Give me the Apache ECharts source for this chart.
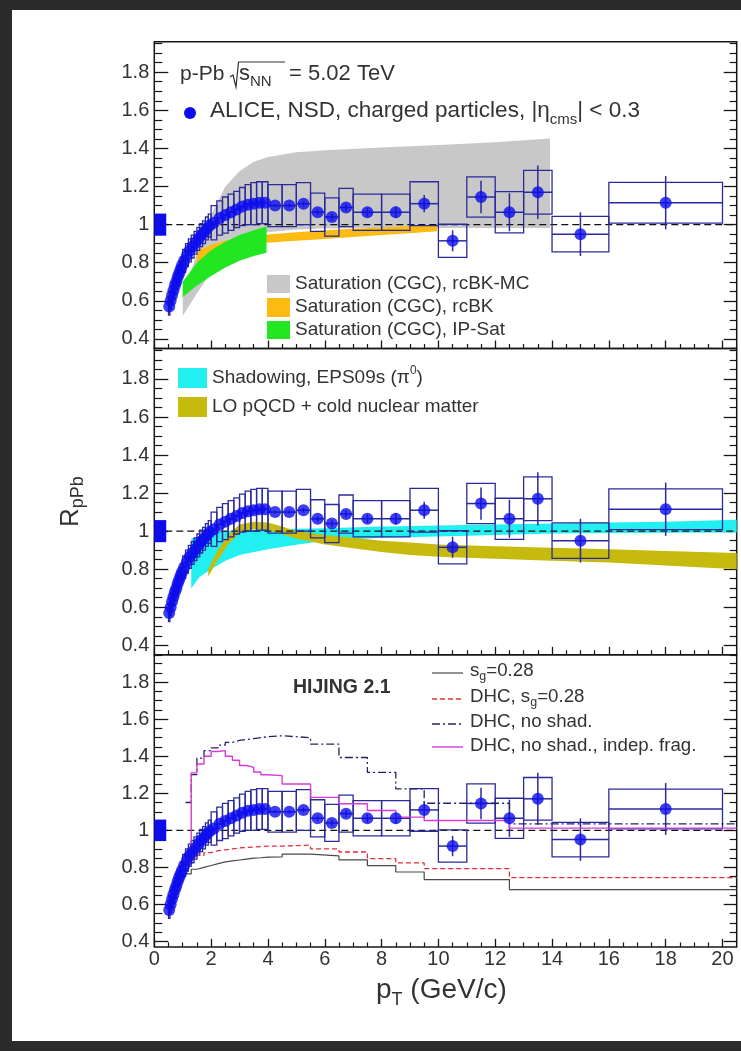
<!DOCTYPE html>
<html>
<head>
<meta charset="utf-8">
<script src="https://cdn.jsdelivr.net/npm/echarts@6/dist/echarts.min.js"></script>
<style>
  html, body { margin: 0; padding: 0; background: #2b2b2b; }
  #chart { width: 741px; height: 1051px; }
</style>
</head>
<body>
<div id="chart"></div>
<script>
// ALICE, NSD charged particles, |eta_cms| < 0.3 : nuclear modification factor R_pPb
const binLow  = [0.5,0.55,0.6,0.65,0.7,0.75,0.8,0.85,0.9,0.95, 1.0,1.1,1.2,1.3,1.4,1.5,1.6,1.7,1.8,1.9,
                 2.0,2.2,2.4,2.6,2.8,3.0,3.2,3.4,3.6,3.8, 4.0,4.5,5.0,5.5,6.0,6.5,7,8,9,10,11,12,13,14,16];
const binHigh = [0.55,0.6,0.65,0.7,0.75,0.8,0.85,0.9,0.95,1.0, 1.1,1.2,1.3,1.4,1.5,1.6,1.7,1.8,1.9,2.0,
                 2.2,2.4,2.6,2.8,3.0,3.2,3.4,3.6,3.8,4.0, 4.5,5.0,5.5,6.0,6.5,7,8,9,10,11,12,13,14,16,20];
const ptCenter = [0.525,0.575,0.625,0.675,0.725,0.775,0.825,0.875,0.925,0.975,
                  1.05,1.15,1.25,1.35,1.45,1.55,1.65,1.75,1.85,1.95,
                  2.1,2.3,2.5,2.7,2.9,3.1,3.3,3.5,3.7,3.9,
                  4.25,4.75,5.25,5.75,6.25,6.75,7.5,8.5,9.5,10.5,11.5,12.5,13.5,15,18];
const rpPb = [0.57,0.60,0.63,0.655,0.68,0.70,0.725,0.745,0.765,0.785,
              0.81,0.84,0.865,0.885,0.905,0.925,0.945,0.96,0.98,0.995,
              1.01,1.035,1.05,1.065,1.08,1.095,1.105,1.11,1.115,1.115,
              1.10,1.10,1.11,1.065,1.04,1.09,1.065,1.065,1.11,0.915,1.145,1.065,1.17,0.95,1.115];
const statErr = [0.004,0.004,0.004,0.004,0.004,0.004,0.004,0.004,0.004,0.004,
                 0.004,0.004,0.004,0.004,0.004,0.004,0.004,0.004,0.004,0.004,
                 0.005,0.005,0.005,0.005,0.005,0.005,0.005,0.005,0.005,0.005,
                 0.008,0.01,0.012,0.014,0.016,0.018,0.022,0.03,0.045,0.055,0.085,0.1,0.14,0.115,0.14];
const sysErr = [0.045,0.045,0.045,0.045,0.045,0.045,0.045,0.045,0.045,0.045,
                0.06,0.06,0.06,0.06,0.06,0.06,0.06,0.06,0.06,0.06,
                0.09,0.09,0.095,0.095,0.095,0.1,0.105,0.11,0.11,0.11,
                0.11,0.11,0.11,0.1,0.1,0.1,0.095,0.095,0.115,0.087,0.106,0.108,0.115,0.093,0.107];
// normalisation uncertainty drawn at unity
const normBin = [0, 0.42];
const normUnc = 0.058;

// Saturation (CGC), rcBK-MC
const rcbkMcX  = [1.0, 1.5, 2.0, 2.5, 3.0, 3.5, 4.0, 5.0, 6.0, 8.0, 10.0, 12.0, 13.93];
const rcbkMcLo = [0.52, 0.64, 0.75, 0.83, 0.89, 0.93, 0.96, 0.975, 0.98, 0.982, 0.982, 0.982, 0.982];
const rcbkMcHi = [0.62, 0.85, 1.05, 1.20, 1.28, 1.33, 1.355, 1.38, 1.39, 1.405, 1.418, 1.432, 1.452];
// Saturation (CGC), rcBK
const rcbkX  = [1.5, 2.0, 2.5, 3.0, 4.0, 5.0, 6.0, 7.0, 8.0, 9.0, 9.95];
const rcbkLo = [0.80, 0.845, 0.87, 0.885, 0.905, 0.915, 0.925, 0.935, 0.945, 0.955, 0.965];
const rcbkHi = [0.86, 0.895, 0.915, 0.93, 0.948, 0.96, 0.97, 0.978, 0.985, 0.993, 1.0];
// Saturation (CGC), IP-Sat
const ipSatX  = [1.0, 1.5, 2.0, 2.5, 3.0, 3.5, 3.95];
const ipSatLo = [0.62, 0.68, 0.73, 0.775, 0.81, 0.835, 0.853];
const ipSatHi = [0.70, 0.80, 0.865, 0.91, 0.945, 0.97, 0.99];
// Shadowing, EPS09s (pi0)
const eps09X  = [1.3, 1.6, 2.0, 2.5, 3.0, 4.0, 5.0, 6.0, 8.0, 10.0, 12.0, 14.0, 16.0, 18.0, 20.5];
const eps09Lo = [0.70, 0.76, 0.80, 0.845, 0.875, 0.905, 0.928, 0.95, 0.965, 0.972, 0.98, 0.988, 0.99, 0.992, 0.993];
const eps09Hi = [0.96, 0.975, 0.99, 1.0, 1.005, 1.01, 1.012, 1.015, 1.025, 1.03, 1.035, 1.04, 1.045, 1.05, 1.06];
// LO pQCD + cold nuclear matter
const pqcdX  = [1.9, 2.2, 2.6, 3.0, 3.5, 4.0, 4.5, 5.0, 5.5, 6.0, 7.0, 8.0, 9.0, 10.0, 12.0, 14.0, 16.0, 18.0, 20.5];
const pqcdLo = [0.76, 0.84, 0.93, 0.99, 1.01, 1.005, 0.985, 0.96, 0.945, 0.93, 0.91, 0.89, 0.875, 0.865, 0.855, 0.845, 0.835, 0.82, 0.80];
const pqcdHi = [0.80, 0.89, 0.98, 1.035, 1.05, 1.045, 1.025, 1.0, 0.99, 0.98, 0.965, 0.95, 0.94, 0.93, 0.92, 0.913, 0.905, 0.895, 0.885];

// HIJING 2.1 histograms (bin edges and contents)
const hijEdges = [1.1,1.3,1.5,1.75,2.0,2.25,2.5,2.75,3.0,3.25,3.5,3.75,4.0,4.5,5.5,6.5,7.5,8.5,9.5,12.5,20.5];
const hijSg        = [0.765,0.79,0.80,0.81,0.82,0.83,0.835,0.84,0.845,0.85,0.852,0.855,0.857,0.872,0.862,0.84,0.81,0.775,0.734,0.68];
const hijDhcSg     = [0.83,0.85,0.865,0.88,0.89,0.895,0.90,0.905,0.908,0.91,0.912,0.915,0.915,0.92,0.90,0.883,0.847,0.824,0.793,0.745];
const hijDhcNoShad = [1.15,1.30,1.39,1.43,1.445,1.46,1.475,1.485,1.49,1.495,1.50,1.505,1.51,1.50,1.465,1.393,1.313,1.224,1.146,1.035];
const hijIndepFrag = [0.875,1.31,1.358,1.40,1.425,1.43,1.40,1.378,1.35,1.34,1.315,1.30,1.295,1.25,1.178,1.143,1.107,1.071,1.053,1.012];

// axis ticks
const xMajor = [0, 2, 4, 6, 8, 10, 12, 14, 16, 18, 20];
const yMajor = [0.4, 0.6, 0.8, 1, 1.2, 1.4, 1.6, 1.8];

const FONT = "'Liberation Sans', Arial, Helvetica, sans-serif";
const TEXT = '#333';
const AXIS = '#161616';
const BLUE = '#0c0cee';
const BOX = '#2a2a9c';

const xMinor = [];
for (let v = 0.5; v < 20.5; v += 0.5) if (Math.abs(v / 2 - Math.round(v / 2)) > 1e-6) xMinor.push(+v.toFixed(2));
const yMinor = [];
for (let k = 7; k <= 39; k++) { const v = +(k * 0.05).toFixed(2); if (Math.abs(v * 5 - Math.round(v * 5)) > 1e-6) yMinor.push(v); }

// frame geometry of the three stacked pads
const pads = [
  { top: 41.7,  height: 306.8, min: 0.35,  max: 1.96 },
  { top: 348.5, height: 306.3, min: 0.35,  max: 1.96 },
  { top: 654.8, height: 292.1, min: 0.371, max: 1.947 }
];
const FRAME_L = 154.3, FRAME_W = 582.4, X_MAX = 20.5;

const grids = pads.map(p => ({
  left: FRAME_L, top: p.top, width: FRAME_W, height: p.height,
  show: true, borderColor: AXIS, borderWidth: 1.5, backgroundColor: 'transparent'
}));

const xAxes = [], yAxes = [];
pads.forEach((p, g) => {
  xAxes.push({
    gridIndex: g, type: 'value', min: 0, max: X_MAX, position: 'bottom',
    axisLine: { show: false }, splitLine: { show: false },
    axisTick: { inside: true, length: 8, customValues: xMajor, lineStyle: { color: AXIS, width: 1.3 } },
    axisLabel: { show: g === 2, customValues: xMajor, fontSize: 20, fontFamily: FONT, color: TEXT, margin: 3 }
  });
  xAxes.push({
    gridIndex: g, type: 'value', min: 0, max: X_MAX, position: 'bottom',
    axisLine: { show: false }, splitLine: { show: false },
    axisTick: { inside: true, length: 4.5, customValues: xMinor, lineStyle: { color: AXIS, width: 1.2 } },
    axisLabel: { show: false }
  });
  const yBase = { gridIndex: g, type: 'value', min: p.min, max: p.max, axisLine: { show: false }, splitLine: { show: false } };
  yAxes.push(Object.assign({}, yBase, {
    position: 'left',
    axisTick: { inside: true, length: 14, customValues: yMajor, lineStyle: { color: AXIS, width: 1.3 } },
    axisLabel: { customValues: yMajor, fontSize: 20, fontFamily: FONT, color: TEXT, margin: 5,
                 formatter: v => String(Math.round(v * 10) / 10) }
  }));
  yAxes.push(Object.assign({}, yBase, {
    position: 'left',
    axisTick: { inside: true, length: 8, customValues: yMinor, lineStyle: { color: AXIS, width: 1.2 } },
    axisLabel: { show: false }
  }));
  yAxes.push(Object.assign({}, yBase, {
    position: 'right',
    axisTick: { inside: true, length: 13, customValues: yMajor, lineStyle: { color: AXIS, width: 1.3 } },
    axisLabel: { show: false }
  }));
  yAxes.push(Object.assign({}, yBase, {
    position: 'right',
    axisTick: { inside: true, length: 7, customValues: yMinor, lineStyle: { color: AXIS, width: 1.2 } },
    axisLabel: { show: false }
  }));
});

function bandSeries(g, xs, lo, hi, color) {
  return {
    type: 'custom', xAxisIndex: 2 * g, yAxisIndex: 4 * g, z: 1, silent: true,
    data: [[xs[0], lo[0]]],
    renderItem: (params, api) => {
      const up = xs.map((x, i) => api.coord([x, hi[i]]));
      const dn = xs.map((x, i) => api.coord([x, lo[i]])).reverse();
      return { type: 'polygon', shape: { points: up.concat(dn) }, style: { fill: color } };
    }
  };
}

function unityLine(g) {
  return {
    type: 'line', xAxisIndex: 2 * g, yAxisIndex: 4 * g, z: 2, silent: true,
    data: [[0, 1], [X_MAX, 1]], showSymbol: false,
    lineStyle: { color: '#111', width: 1.3, type: [7, 4] }
  };
}

function normSeries(g) {
  return {
    type: 'custom', xAxisIndex: 2 * g, yAxisIndex: 4 * g, z: 3, silent: true,
    data: [[normBin[0], normBin[1], 1, normUnc]],
    renderItem: (params, api) => {
      const a = api.coord([api.value(0), api.value(2) + api.value(3)]);
      const b = api.coord([api.value(1), api.value(2) - api.value(3)]);
      return { type: 'rect', shape: { x: a[0], y: a[1], width: b[0] - a[0], height: b[1] - a[1] }, style: { fill: BLUE } };
    }
  };
}

function sysSeries(g) {
  return {
    type: 'custom', xAxisIndex: 2 * g, yAxisIndex: 4 * g, z: 4, silent: true,
    data: ptCenter.map((x, i) => [binLow[i], binHigh[i], rpPb[i], sysErr[i]]),
    renderItem: (params, api) => {
      const a = api.coord([api.value(0), api.value(2) + api.value(3)]);
      const b = api.coord([api.value(1), api.value(2) - api.value(3)]);
      return { type: 'rect', shape: { x: a[0], y: a[1], width: b[0] - a[0], height: b[1] - a[1] },
               style: { fill: 'none', stroke: BOX, lineWidth: 1.3 } };
    }
  };
}

function errSeries(g) {
  return {
    type: 'custom', xAxisIndex: 2 * g, yAxisIndex: 4 * g, z: 5, silent: true,
    data: ptCenter.map((x, i) => [x, rpPb[i], binLow[i], binHigh[i], statErr[i]]),
    renderItem: (params, api) => {
      const x = api.value(0), y = api.value(1), s = api.value(4);
      const l = api.coord([api.value(2), y]), r = api.coord([api.value(3), y]);
      const t = api.coord([x, y + s]), b = api.coord([x, y - s]);
      const st = { stroke: BOX, lineWidth: 1.5 };
      return { type: 'group', children: [
        { type: 'line', shape: { x1: l[0], y1: l[1], x2: r[0], y2: r[1] }, style: st },
        { type: 'line', shape: { x1: t[0], y1: t[1], x2: b[0], y2: b[1] }, style: st }
      ] };
    }
  };
}

function markerSeries(g) {
  return {
    type: 'scatter', xAxisIndex: 2 * g, yAxisIndex: 4 * g, z: 8, silent: true,
    data: ptCenter.map((x, i) => [x, rpPb[i]]),
    symbol: 'circle', symbolSize: 12, itemStyle: { color: BLUE }
  };
}

function histSeries(vals, color, type, width) {
  return {
    type: 'line', xAxisIndex: 4, yAxisIndex: 8, z: 6, silent: true, step: 'end',
    data: hijEdges.map((e, i) => [e, vals[Math.min(i, vals.length - 1)]]),
    showSymbol: false, lineStyle: { color: color, width: width, type: type }
  };
}

const series = [
  bandSeries(0, rcbkMcX, rcbkMcLo, rcbkMcHi, '#c8c8c8'),
  bandSeries(0, rcbkX, rcbkLo, rcbkHi, '#fbbb12'),
  bandSeries(0, ipSatX, ipSatLo, ipSatHi, '#22e622'),
  bandSeries(1, eps09X, eps09Lo, eps09Hi, '#22f0f0'),
  bandSeries(1, pqcdX, pqcdLo, pqcdHi, '#c6ba0c'),
  histSeries(hijSg, '#4a4a4a', 'solid', 1.2),
  histSeries(hijDhcSg, '#e0303a', [5, 3], 1.3),
  histSeries(hijDhcNoShad, '#232366', [8, 3, 2, 3], 1.3),
  histSeries(hijIndepFrag, '#d93ad6', 'solid', 1.4)
];
[0, 1, 2].forEach(g => {
  series.push(unityLine(g), normSeries(g), sysSeries(g), errSeries(g), markerSeries(g));
});

// text helpers: a line of text built from runs, shifted for sub/superscripts
const mctx = document.createElement('canvas').getContext('2d');
function fontStr(size, weight) { return (weight || 'normal') + ' ' + size + 'px ' + FONT; }
function textW(t, size, weight) { mctx.font = fontStr(size, weight); return mctx.measureText(t).width; }
function runs(x, y, pieces) {
  const out = []; let cx = x;
  pieces.forEach(p => {
    out.push({ type: 'text', x: cx, y: y + (p.dy || 0), z: 100, silent: true,
      style: { text: p.t, font: fontStr(p.s, p.w), fill: TEXT, align: 'left', verticalAlign: 'middle' } });
    cx += textW(p.t, p.s, p.w);
  });
  return out;
}
function box(x, y, w, h, color) {
  return { type: 'rect', z: 100, silent: true, shape: { x: x, y: y, width: w, height: h }, style: { fill: color } };
}
function seg(x1, y1, x2, y2, color, dash, width) {
  return { type: 'line', z: 100, silent: true, shape: { x1: x1, y1: y1, x2: x2, y2: y2 },
           style: { stroke: color, lineWidth: width || 1.3, lineDash: dash || null } };
}

const graphic = [
  { type: 'rect', z: -100, silent: true, shape: { x: 12, y: 10, width: 729, height: 1031 }, style: { fill: '#ffffff' } },
  // collision system and energy
  ...runs(180, 74, [{ t: 'p-Pb', s: 21 }]),
  { type: 'polyline', z: 100, silent: true, shape: { points: [[230, 77], [233, 75], [236, 87], [238.5, 62], [285, 62]] },
    style: { stroke: TEXT, lineWidth: 1.2, fill: null } },
  ...runs(239, 74, [{ t: 's', s: 22 }, { t: 'NN', s: 15, dy: 8 }]),
  ...runs(289, 74, [{ t: '= 5.02 TeV', s: 22 }]),
  // data legend
  { type: 'circle', z: 100, silent: true, shape: { cx: 190, cy: 113, r: 6 }, style: { fill: BLUE } },
  ...runs(210, 111, [{ t: 'ALICE, NSD, charged particles, |\u03b7', s: 22.5 }, { t: 'cms', s: 15, dy: 9 }, { t: '| < 0.3', s: 22.5 }]),
  // saturation legend
  box(267, 275, 23, 18, '#c8c8c8'),
  box(267, 298, 23, 19, '#fbbb12'),
  box(267, 321, 23, 18, '#22e622'),
  ...runs(295, 284, [{ t: 'Saturation (CGC), rcBK-MC', s: 19 }]),
  ...runs(295, 307, [{ t: 'Saturation (CGC), rcBK', s: 19 }]),
  ...runs(295, 330, [{ t: 'Saturation (CGC), IP-Sat', s: 19 }]),
  // shadowing / pQCD legend
  box(178, 368, 29, 20, '#22f0f0'),
  box(178, 397, 29, 20, '#c6ba0c'),
  ...runs(212, 378, [{ t: 'Shadowing, EPS09s (\u03c0', s: 19 }, { t: '0', s: 12, dy: -7 }, { t: ')', s: 19 }]),
  ...runs(212, 407, [{ t: 'LO pQCD + cold nuclear matter', s: 19 }]),
  // HIJING legend
  ...runs(293, 688, [{ t: 'HIJING 2.1', s: 19.5, w: 'bold' }]),
  seg(432, 673, 463, 673, '#4a4a4a', null, 1.2),
  seg(432, 699, 463, 699, '#e0303a', [5, 3], 1.3),
  seg(432, 724, 463, 724, '#232366', [8, 3, 2, 3], 1.3),
  seg(432, 747, 463, 747, '#d93ad6', null, 1.4),
  ...runs(470, 671, [{ t: 's', s: 18.7 }, { t: 'g', s: 12.5, dy: 6 }, { t: '=0.28', s: 18.7 }]),
  ...runs(470, 697, [{ t: 'DHC, s', s: 18.7 }, { t: 'g', s: 12.5, dy: 6 }, { t: '=0.28', s: 18.7 }]),
  ...runs(470, 722, [{ t: 'DHC, no shad.', s: 18.7 }]),
  ...runs(470, 746, [{ t: 'DHC, no shad., indep. frag.', s: 18.7 }]),
  // axis titles
  ...runs(376, 990, [{ t: 'p', s: 28 }, { t: 'T', s: 18, dy: 10 }, { t: ' (GeV/c)', s: 28 }]),
  { type: 'group', x: 80, y: 527, rotation: Math.PI / 2, z: 100, silent: true,
    children: runs(0, -9, [{ t: 'R', s: 26 }, { t: 'pPb', s: 18, dy: 7 }]) }
];

const chart = echarts.init(document.getElementById('chart'), null, { renderer: 'canvas' });
chart.setOption({
  backgroundColor: '#2b2b2b',
  animation: false,
  grid: grids,
  xAxis: xAxes,
  yAxis: yAxes,
  series: series,
  graphic: graphic
});
</script>
</body>
</html>
